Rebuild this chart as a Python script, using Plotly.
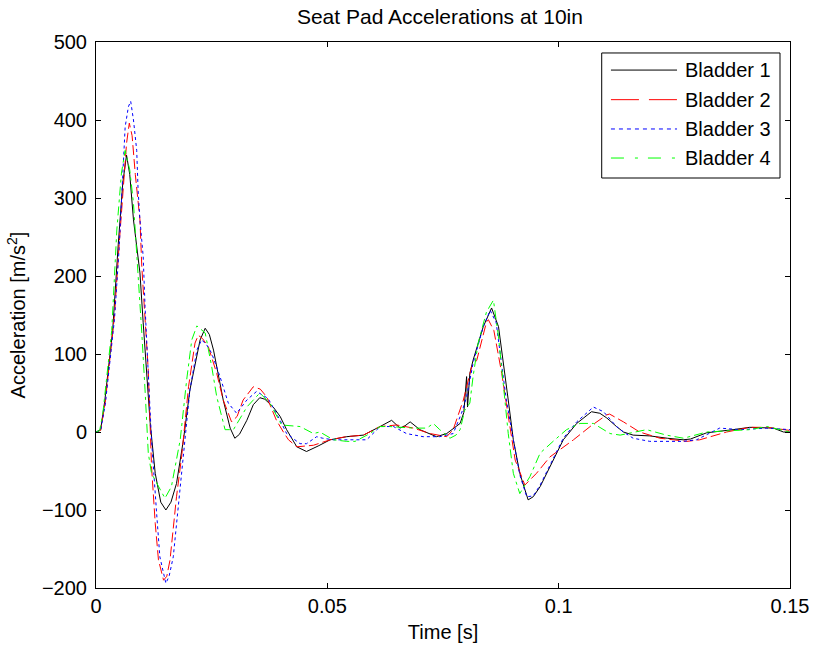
import plotly.graph_objects as go

# Seat pad acceleration traces (time in s, acceleration in m/s^2)
t_b1 = [0, 0.001, 0.0019, 0.0028, 0.0036, 0.0048, 0.0058, 0.0066, 0.0073, 0.0081, 0.0095, 0.0102,
        0.0117, 0.0128, 0.0140, 0.0151, 0.0162, 0.0174, 0.0189, 0.0203, 0.0225, 0.0236, 0.0245,
        0.0254, 0.0275, 0.0290, 0.0300, 0.0310, 0.0326, 0.0340, 0.0354, 0.0365, 0.0383, 0.0398,
        0.0412, 0.0434, 0.0455, 0.0480, 0.0506, 0.0542, 0.0578, 0.0614, 0.0639, 0.0657, 0.0668,
        0.0679, 0.0700, 0.0736, 0.0758, 0.0787, 0.0795, 0.0801, 0.0803, 0.0808, 0.0815, 0.0837,
        0.0855, 0.0870, 0.0880, 0.0891, 0.0902, 0.0916, 0.0934, 0.0945, 0.0960, 0.0981, 0.1010,
        0.1039, 0.1071, 0.1089, 0.1104, 0.1125, 0.1140, 0.1161, 0.1197, 0.1235, 0.1269, 0.1285,
        0.1320, 0.1377, 0.1413, 0.1464, 0.1486, 0.1500]
a_b1 = [0, 3, 40, 90, 130, 240, 320, 355, 330, 272, 204, 140,
        12, -53, -90, -100, -90, -66, -10, 54, 118, 133, 125,
        105, 41, 5, -8, -3, 15, 35, 44, 42, 32, 20,
        3, -19, -25, -18, -10, -6, -4, 7, 15, 5, 8,
        13, 3, -6, -2, 11, 25, 71, 32, 75, 92, 135,
        159, 135, 92, 41, -10, -53, -87, -83, -70, -44, -10,
        11, 26, 24, 18, 7, 0, -4, -5, -8, -10, -9,
        -1, 3, 6, 5, 0, 0]

t_b2 = [0, 0.001, 0.002, 0.003, 0.004, 0.005, 0.006, 0.0066, 0.0072, 0.0078, 0.0085, 0.0095,
        0.0099, 0.0106, 0.0113, 0.0120, 0.0128, 0.0135, 0.0146, 0.0153, 0.0160, 0.0174, 0.0185,
        0.0200, 0.0214, 0.0221, 0.0230, 0.0243, 0.0261, 0.0275, 0.0293, 0.0305, 0.0318, 0.0340,
        0.0355, 0.0369, 0.0390, 0.0405, 0.0416, 0.0434, 0.0470, 0.0506, 0.0540, 0.0578, 0.0614,
        0.0650, 0.0686, 0.0722, 0.0758, 0.0772, 0.0790, 0.0794, 0.0812, 0.0823, 0.0844, 0.0848,
        0.0860, 0.0877, 0.0888, 0.0906, 0.0927, 0.0952, 0.0981, 0.1032, 0.1068, 0.1104, 0.1110,
        0.1140, 0.1175, 0.1219, 0.1277, 0.1305, 0.1363, 0.1413, 0.1450, 0.1495, 0.1500]
a_b2 = [0, 2, 38, 95, 150, 240, 320, 370, 396, 380, 330, 272,
        212, 150, 79, -44, -117, -164, -190, -185, -164, -83, -32,
        58, 114, 124, 120, 109, 75, 41, 13, 20, 41, 58,
        55, 45, 15, 0, -10, -19, -17, -10, -6, -4, 7,
        9, 5, -2, -6, 3, 32, 41, 84, 92, 141, 144,
        130, 75, 32, -36, -68, -53, -32, -10, 7, 22, 23,
        13, 0, -8, -12, -10, 0, 6, 6, 3, 2]

t_b3 = [0, 0.001, 0.002, 0.003, 0.004, 0.005, 0.0058, 0.0063, 0.0070, 0.0075, 0.0081, 0.0088,
        0.0091, 0.0095, 0.0102, 0.0106, 0.0113, 0.0120, 0.0131, 0.0138, 0.0151, 0.0158, 0.0167,
        0.0178, 0.0189, 0.0203, 0.0218, 0.0228, 0.0238, 0.0250, 0.0268, 0.0286, 0.0304, 0.0326,
        0.0347, 0.0372, 0.0398, 0.0412, 0.0441, 0.0455, 0.0477, 0.0490, 0.0513, 0.0585, 0.0614,
        0.0643, 0.0671, 0.0707, 0.0743, 0.0772, 0.0790, 0.0801, 0.0815, 0.0837, 0.0852, 0.0865,
        0.0877, 0.0887, 0.0902, 0.0916, 0.0931, 0.0945, 0.0960, 0.0981, 0.1010, 0.1039, 0.1075,
        0.1097, 0.1125, 0.1140, 0.1161, 0.1197, 0.1269, 0.1298, 0.1348, 0.1392, 0.1450, 0.1500]
a_b3 = [0, 2, 35, 90, 145, 235, 330, 391, 417, 424, 400, 361,
        310, 272, 225, 161, 75, -10, -104, -160, -194, -185, -160,
        -96, -27, 54, 105, 118, 113, 101, 71, 37, 24, 41,
        52, 43, 15, -2, -15, -15, -6, -8, -10, -10, 7,
        7, -2, -6, -6, -2, 24, 45, 88, 135, 156, 140,
        85, 41, -10, -55, -83, -82, -68, -42, -8, 13, 32,
        26, 7, 0, -8, -12, -12, -10, 5, 3, 5, 3]

t_b4 = [0, 0.0008, 0.0015, 0.0025, 0.0034, 0.0045, 0.0055, 0.0063, 0.0073, 0.0081, 0.0088, 0.0095,
        0.0099, 0.0106, 0.0113, 0.0120, 0.0135, 0.0149, 0.0163, 0.0182, 0.0196, 0.0207, 0.0218,
        0.0236, 0.0250, 0.0261, 0.0279, 0.0297, 0.0326, 0.0354, 0.0376, 0.0401, 0.0441, 0.0470,
        0.0484, 0.0513, 0.0542, 0.0560, 0.0592, 0.0614, 0.0634, 0.0686, 0.0715, 0.0729, 0.0743,
        0.0765, 0.0778, 0.0787, 0.0797, 0.0808, 0.0815, 0.0826, 0.0844, 0.0859, 0.0870, 0.0880,
        0.0891, 0.0902, 0.0916, 0.0938, 0.0960, 0.0988, 0.1017, 0.1046, 0.1075, 0.1111, 0.1133,
        0.1190, 0.1197, 0.1233, 0.1270, 0.1298, 0.1320, 0.1413, 0.1450, 0.1500]
a_b4 = [0, 2, 25, 80, 130, 259, 332, 361, 336, 293, 233, 169,
        127, 54, -27, -53, -70, -85, -70, -10, 67, 118, 136,
        127, 84, 45, 3, 3, 32, 50, 37, 9, 7, -2,
        0, -10, -12, -12, -2, 7, 7, 5, 5, 11, 3,
        -8, -4, 3, 28, 37, 71, 114, 154, 169, 122, 58,
        -2, -53, -79, -57, -27, -12, 3, 11, 11, -2, -4,
        3, 2, -4, -8, -4, 0, 3, 7, 0]

names = ["Bladder 1", "Bladder 2", "Bladder 3", "Bladder 4"]
x_ticks = [0, 0.05, 0.1, 0.15]
x_tick_text = ["0", "0.05", "0.1", "0.15"]
y_ticks = [-200, -100, 0, 100, 200, 300, 400, 500]

series = [(t_b1, a_b1), (t_b2, a_b2), (t_b3, a_b3), (t_b4, a_b4)]

# line styles: solid, dashed, dotted, dash-dot
colors = ["#000000", "#FF0000", "#0000FF", "#00FF00"]
curve_dash = ["solid", "10px,4px", "3px,3px", "9px,4px,3px,4px"]
key_dash = ["solid", "28px,10px", "4px,4px", "13px,11px,3px,10px"]

FONT = "Liberation Sans, Arial, Helvetica, sans-serif"
font = dict(family=FONT, size=20, color="#000000")

fig = go.Figure()
for (t, a), name, color, dash in zip(series, names, colors, curve_dash):
    fig.add_trace(go.Scatter(x=t, y=a, mode="lines", name=name, showlegend=False,
                             line=dict(color=color, width=1, dash=dash)))

# boxed key in the upper-right corner of the axes
key_left, key_right, key_top, key_bottom = 0.7287, 0.9856, 0.9799, 0.7509
key_line_x0, key_line_x1, key_text_x = 0.742, 0.8372, 0.8458
key_rows = [0.9486, 0.8944, 0.8407, 0.7875]

shapes = [dict(type="rect", xref="paper", yref="paper",
               x0=key_left, x1=key_right, y0=key_bottom, y1=key_top,
               line=dict(color="#000000", width=1), fillcolor="#FFFFFF", layer="above")]
annotations = []
for name, color, dash, yk in zip(names, colors, key_dash, key_rows):
    shapes.append(dict(type="line", xref="paper", yref="paper",
                       x0=key_line_x0, x1=key_line_x1, y0=yk, y1=yk,
                       line=dict(color=color, width=1, dash=dash), layer="above"))
    annotations.append(dict(text=name, xref="paper", yref="paper", x=key_text_x, y=yk,
                            xanchor="left", yanchor="middle", showarrow=False,
                            font=font))

axis_common = dict(showline=True, linecolor="#000000", linewidth=1, mirror="ticks",
                   ticks="inside", ticklen=5, tickcolor="#000000", showgrid=False,
                   zeroline=False, tickfont=font, automargin=False)

fig.update_layout(
    width=814, height=650,
    paper_bgcolor="#FFFFFF", plot_bgcolor="#FFFFFF",
    margin=dict(l=96, r=24, t=42, b=62, autoexpand=False),
    font=font,
    title=dict(text="Seat Pad Accelerations at 10in", x=0.5405, xanchor="center",
               y=0.9738, yanchor="middle", automargin=False,
               font=dict(family=FONT, size=21, color="#000000")),
    xaxis=dict(range=[0, 0.15], tickvals=x_ticks, ticktext=x_tick_text,
               title=dict(text="Time [s]", standoff=8, font=font), **axis_common),
    yaxis=dict(range=[-200, 500], tickvals=y_ticks, ticklabelstandoff=4,
               title=dict(text="Acceleration [m/s<sup>2</sup>]", standoff=10, font=font),
               **axis_common),
    shapes=shapes,
    annotations=annotations,
    showlegend=False,
)

fig.write_html("out.html")
